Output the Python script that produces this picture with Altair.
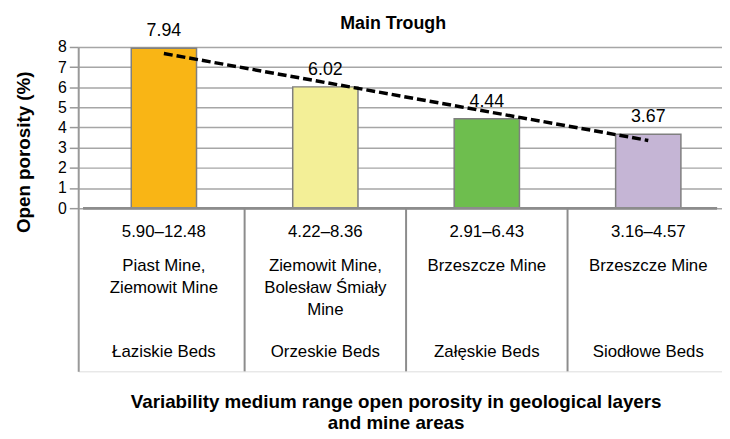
import altair as alt
import pandas as pd

# ---- data ----
chart_title = ["Main Trough"]
beds = ["Łaziskie Beds", "Orzeskie Beds", "Załęskie Beds", "Siodłowe Beds"]
porosity = [7.94, 6.02, 4.44, 3.67]
ranges = ["5.90–12.48", "4.22–8.36", "2.91–6.43", "3.16–4.57"]
mines = ["Piast Mine,\nZiemowit Mine", "Ziemowit Mine,\nBolesław Śmiały\nMine", "Brzeszcze Mine", "Brzeszcze Mine"]
colors = ["#F9B515", "#F3EF97", "#6EBE4E", "#C5B5D5"]
y_ticks = [0, 1, 2, 3, 4, 5, 6, 7, 8]
dividers = [1, 2, 3]

FONT = "Liberation Sans"
XMAX = 3.926

df = pd.DataFrame({
    "idx": list(range(len(beds))),
    "bed": beds,
    "value": porosity,
    "range": ranges,
    "mine": mines,
})
div_df = pd.DataFrame({"d": dividers})
title_df = pd.DataFrame({"t": chart_title})

xscale = alt.Scale(domain=[0, XMAX], nice=False, zero=False)
yscale = alt.Scale(domain=[-8.1, 8], nice=False, zero=False)

base = alt.Chart(df).transform_calculate(xc="datum.idx + 0.5")

X = alt.X("xc:Q", scale=xscale,
          axis=alt.Axis(
              title=["Variability medium range open porosity in geological layers", "and mine areas"],
              labels=False, ticks=False, domain=False, grid=False,
              titleFont=FONT, titleFontSize=19, titleFontWeight="bold", titleColor="black",
              titlePadding=22, titleLineHeight=21, titleX=321))

Y = alt.Y("value:Q", scale=yscale,
          axis=alt.Axis(
              values=y_ticks, title="Open porosity (%)", grid=True,
              gridColor="#A6A6A6", gridWidth=1.5,
              domainColor="#999999", domainWidth=2,
              tickColor="#999999", tickWidth=1.5, tickSize=9,
              labelFont=FONT, labelFontSize=16, labelColor="black", labelPadding=3,
              titleFont=FONT, titleFontSize=19, titleFontWeight="bold", titleColor="black",
              titleAngle=-90, titleX=-55, titleY=106, titleAlign="center", titleBaseline="middle"))

bars = base.mark_bar(width=66, stroke="#7F7F7F", strokeWidth=1.5).encode(
    x=X, y=Y,
    y2=alt.datum(0),
    color=alt.Color("bed:N", scale=alt.Scale(domain=beds, range=colors), legend=None),
)

values = base.mark_text(font=FONT, fontSize=18, color="black", baseline="alphabetic", dy=-12).encode(
    x="xc:Q", y="value:Q", text=alt.Text("value:Q", format=".2f"))

trend = alt.Chart(df).transform_regression("idx", "value").transform_calculate(
    xc="datum.idx + 0.5").mark_line(color="black", strokeWidth=3.5, strokeDash=[9, 4]).encode(
    x="xc:Q", y="value:Q")

zero_line = alt.Chart(df).mark_rule(color="#8C8C8C", strokeWidth=2).encode(
    x=alt.datum(0), x2=alt.datum(XMAX), y=alt.datum(0))

div_rules = alt.Chart(div_df).mark_rule(color="#8C8C8C", strokeWidth=2).encode(
    x="d:Q", y=alt.datum(0), y2=alt.datum(-8.1))

range_txt = base.mark_text(font=FONT, fontSize=17, color="black", baseline="middle").encode(
    x="xc:Q", y=alt.datum(-1.18), text="range:N")

mine_txt = base.mark_text(font=FONT, fontSize=17, color="black", baseline="top",
                          lineBreak="\n", lineHeight=22).encode(
    x="xc:Q", y=alt.datum(-2.5), text="mine:N")

bed_txt = base.mark_text(font=FONT, fontSize=17, color="black", baseline="middle").encode(
    x="xc:Q", y=alt.datum(-7.12), text="bed:N")

title_txt = alt.Chart(title_df).mark_text(font=FONT, fontSize=18, fontWeight="bold", color="black",
                                          baseline="middle").encode(
    x=alt.datum(1.92), y=alt.datum(9.13), text="t:N")

chart = alt.layer(bars, trend, zero_line, div_rules, values, range_txt, mine_txt, bed_txt, title_txt).properties(
    width=651, height=328,
    autosize=alt.AutoSizeParams(type="none"),
    padding={"left": 71, "top": 37, "right": 0, "bottom": 66},
).configure_view(stroke=None).configure(background="white")

chart.save("out.html", embed_options={"renderer": "svg", "actions": False})
